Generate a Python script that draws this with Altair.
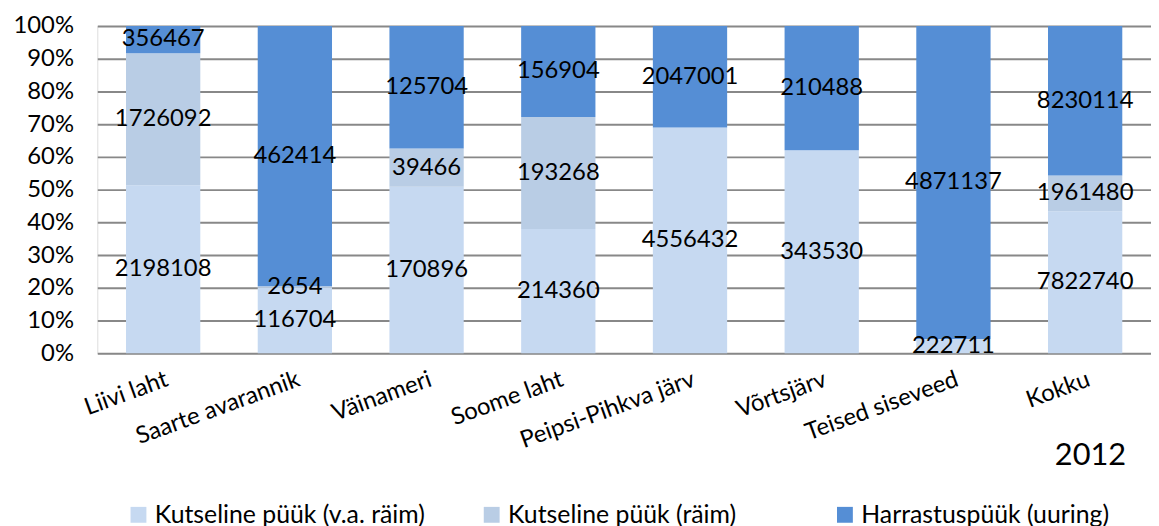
import altair as alt
import pandas as pd

regions = ["Liivi laht", "Saarte avarannik", "Väinameri", "Soome laht",
           "Peipsi-Pihkva järv", "Võrtsjärv", "Teised siseveed", "Kokku"]
series = ["Kutseline püük (v.a. räim)", "Kutseline püük (räim)", "Harrastuspüük (uuring)"]
kutseline_va_raim = [2198108, 116704, 170896, 214360, 4556432, 343530, 222711, 7822740]
kutseline_raim = [1726092, 2654, 39466, 193268, 0, 0, 0, 1961480]
harrastus = [356467, 462414, 125704, 156904, 2047001, 210488, 4871137, 8230114]
colors = ["#c6d9f1", "#b9cde5", "#558ed5"]
y_ticks = [0, 0.1, 0.2, 0.3, 0.4, 0.5, 0.6, 0.7, 0.8, 0.9, 1.0]

rows = []
for i, r in enumerate(regions):
    for k, (s, vals) in enumerate(zip(series, [kutseline_va_raim, kutseline_raim, harrastus])):
        rows.append({"region": r, "series": s, "order": k, "value": vals[i]})
df = pd.DataFrame(rows)

FONT = "Lato"

base = alt.Chart(df).transform_joinaggregate(
    total="sum(value)", groupby=["region"]
).transform_calculate(
    pct="datum.value / datum.total"
).transform_stack(
    stack="pct", groupby=["region"], sort=[alt.SortField("order", "ascending")], as_=["y0", "y1"]
).transform_calculate(
    mid="(datum.y0 + datum.y1) / 2"
)

xaxis = alt.Axis(labelAngle=-20, labelAlign="right", labelBaseline="top",
                 labelFont=FONT, labelFontSize=24, labelColor="#000000",
                 labelPadding=14, labelLimit=400, labelOverlap=False,
                 ticks=False, domain=False, grid=False)
xscale = alt.Scale(paddingInner=0.436, paddingOuter=0.218)
yaxis = alt.Axis(values=y_ticks, format=".0%", tickCount=11,
                 labelFont=FONT, labelFontSize=24, labelColor="#000000",
                 labelPadding=24, labelOverlap=False, labelBound=False,
                 ticks=False, domain=False,
                 grid=True, gridColor="#888888", gridWidth=2)
yscale = alt.Scale(domain=[0, 1], nice=False)

bars = base.mark_bar().encode(
    x=alt.X("region:N", sort=regions, title=None, scale=xscale, axis=xaxis),
    y=alt.Y("y0:Q", scale=yscale, title=None, axis=yaxis),
    y2="y1:Q",
    color=alt.Color("series:N", sort=series,
                    scale=alt.Scale(domain=series, range=colors),
                    legend=alt.Legend(title=None, orient="none", legendX=29, legendY=480,
                                      direction="horizontal", columns=3, gridAlign="all",
                                      columnPadding=54, symbolType="square", symbolSize=256,
                                      symbolStrokeWidth=0, labelFont=FONT, labelFontSize=25,
                                      labelColor="#000000", labelOffset=4, labelLimit=400)),
)

labels = base.transform_filter("datum.value > 0").mark_text(
    font=FONT, fontSize=24, color="#000000", baseline="middle"
).encode(
    x=alt.X("region:N", sort=regions, title=None, scale=xscale, axis=xaxis),
    y=alt.Y("mid:Q", scale=yscale, title=None, axis=yaxis),
    text=alt.Text("value:Q", format="d"),
)

year = alt.Chart(pd.DataFrame({"t": ["2012"]})).mark_text(
    font=FONT, fontSize=31, color="#000000", align="right", baseline="middle"
).encode(x=alt.value(1037), y=alt.value(434), text="t:N")

chart = alt.layer(bars, labels, year).properties(
    width=1062, height=330,
    padding={"left": 5, "top": 4, "right": 0, "bottom": 0}
).configure_view(stroke=None).configure(background="#ffffff")

chart.save("out.html", embed_options={"renderer": "svg", "actions": False})
